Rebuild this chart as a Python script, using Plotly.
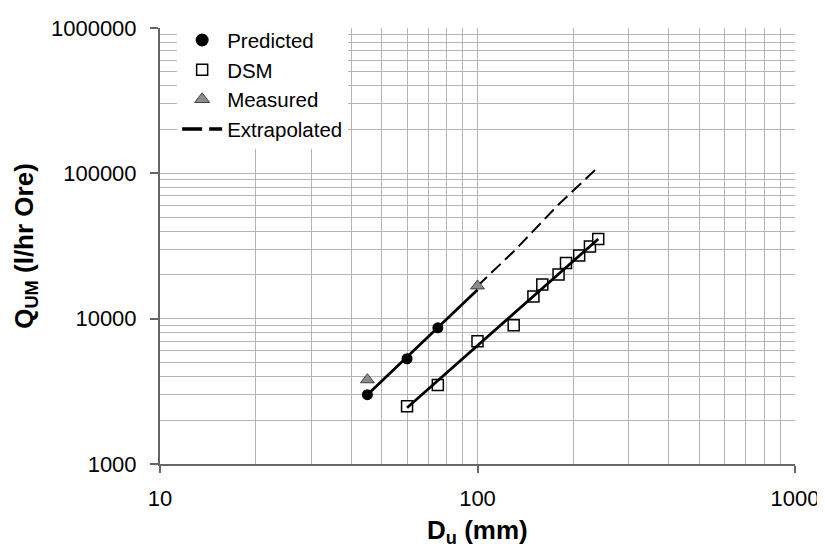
import plotly.graph_objects as go

# ---- data ----
predicted_x = [45, 60, 75]
predicted_y = [3000, 5300, 8650]

predicted_fit_x = [45, 100]
predicted_fit_y = [3000, 15800]

dsm_x = [60, 75, 100, 130, 150, 160, 180, 190, 209, 226, 240]
dsm_y = [2500, 3500, 7000, 9000, 14200, 17200, 20100, 24150, 27250, 31350, 35300]

dsm_fit_x = [60, 240]
dsm_fit_y = [2440, 35300]

measured_x = [45, 100]
measured_y = [3800, 16800]

extrap_x = [100, 130, 180, 240]
extrap_y = [16800, 29000, 61000, 110500]

x_ticks = [10, 100, 1000]
y_ticks = [1000, 10000, 100000, 1000000]

FONT = "Liberation Sans, Arial, sans-serif"
GRID = "#b4b4b4"
AXIS = "#666666"
TRI_FILL = "#8c8c8c"
TRI_LINE = "#404040"

fig = go.Figure()

fig.add_trace(go.Scatter(
    x=dsm_x, y=dsm_y, mode="markers", name="DSM",
    marker=dict(symbol="square", size=11, color="white",
                line=dict(color="black", width=1.5)),
    showlegend=False))

fig.add_trace(go.Scatter(
    x=extrap_x, y=extrap_y, mode="lines", name="Extrapolated",
    line=dict(color="black", width=2, dash="13px,6px"), showlegend=False))

fig.add_trace(go.Scatter(
    x=dsm_fit_x, y=dsm_fit_y, mode="lines", showlegend=False,
    line=dict(color="black", width=2.75)))

fig.add_trace(go.Scatter(
    x=predicted_fit_x, y=predicted_fit_y, mode="lines", showlegend=False,
    line=dict(color="black", width=2.75)))

fig.add_trace(go.Scatter(
    x=predicted_x, y=predicted_y, mode="markers", name="Predicted",
    marker=dict(symbol="circle", size=11, color="black"), showlegend=False))

fig.add_trace(go.Scatter(
    x=measured_x, y=measured_y, mode="markers", name="Measured",
    marker=dict(symbol="triangle-up", size=12, color=TRI_FILL,
                line=dict(color=TRI_LINE, width=1)), showlegend=False))

# legend entries (legend-only traces, in the reference's order)
fig.add_trace(go.Scatter(
    x=[None], y=[None], mode="markers", name="Predicted",
    marker=dict(symbol="circle", size=13, color="black")))
fig.add_trace(go.Scatter(
    x=[None], y=[None], mode="markers", name="DSM",
    marker=dict(symbol="square", size=11, color="white",
                line=dict(color="black", width=1.5))))
fig.add_trace(go.Scatter(
    x=[None], y=[None], mode="markers", name="Measured",
    marker=dict(symbol="triangle-up", size=13, color=TRI_FILL,
                line=dict(color=TRI_LINE, width=1))))
fig.add_trace(go.Scatter(
    x=[None], y=[None], mode="lines", name="Extrapolated",
    line=dict(color="black", width=3.5, dash="20px,7px")))

fig.update_layout(
    width=825, height=550,
    margin=dict(l=152, r=38, t=14, b=94),
    paper_bgcolor="white", plot_bgcolor="white",
    font=dict(family=FONT, size=22, color="black"),
    legend=dict(x=0.027, y=1.018, xanchor="left", yanchor="top",
                bgcolor="white", borderwidth=0,
                font=dict(size=20.5), tracegroupgap=0, itemwidth=40),
    showlegend=True,
    annotations=[
        dict(text="<b>D<sub>u</sub> (mm)</b>", xref="paper", yref="paper",
             x=0.5, y=-0.154, xanchor="center", yanchor="middle",
             showarrow=False, font=dict(size=26, family=FONT)),
        dict(text="<b>Q<sub>UM</sub> (l/hr Ore)</b>", xref="paper", yref="paper",
             x=-0.213, y=0.5, xanchor="center", yanchor="middle", textangle=-90,
             showarrow=False, font=dict(size=26, family=FONT)),
    ],
)

fig.update_xaxes(
    type="log", range=[1, 3],
    tickmode="array", tickvals=x_ticks, ticktext=[str(v) for v in x_ticks],
    ticks="outside", ticklen=7, tickcolor=AXIS, tickwidth=2,
    ticklabelstandoff=7,
    showline=True, linecolor=AXIS, linewidth=2,
    showgrid=True, gridcolor=GRID, gridwidth=1,
    minor=dict(showgrid=True, gridcolor=GRID, gridwidth=1, dtick="D1", ticks=""),
    zeroline=False, automargin=False,
    tickfont=dict(size=22),
)

fig.update_yaxes(
    type="log", range=[3, 6],
    tickmode="array", tickvals=y_ticks, ticktext=[str(v) for v in y_ticks],
    ticks="outside", ticklen=8, tickcolor=AXIS, tickwidth=2,
    ticklabelstandoff=9,
    showline=True, linecolor=AXIS, linewidth=2,
    showgrid=True, gridcolor=GRID, gridwidth=1,
    minor=dict(showgrid=True, gridcolor=GRID, gridwidth=1, dtick="D1", ticks=""),
    zeroline=False, automargin=False,
    tickfont=dict(size=22),
)

fig.write_html("out.html")
